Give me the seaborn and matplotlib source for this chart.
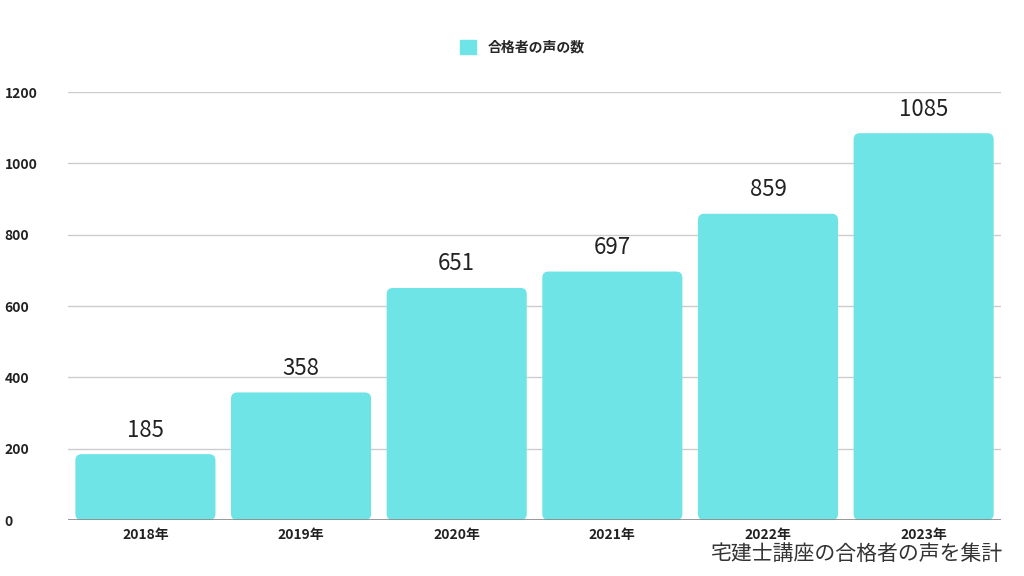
import matplotlib.pyplot as plt
import seaborn as sns
import pandas as pd
from matplotlib.patches import FancyBboxPatch, Patch

years = ["2018年", "2019年", "2020年", "2021年", "2022年", "2023年"]
voices = [185, 358, 651, 697, 859, 1085]
series_name = "合格者の声の数"
footer = "宅建士講座の合格者の声を集計"
bar_color = "#6ee4e6"

df = pd.DataFrame({"year": years, "count": voices})

sns.set_theme(style="white")
plt.rcParams['font.family'] = ['Noto Sans CJK JP', 'DejaVu Sans']

fig = plt.figure(figsize=(10.24, 5.76), dpi=100)
ax = fig.add_axes([0.066, 0.097, 0.912, 0.743])

sns.barplot(data=df, x="year", y="count", color=bar_color, width=0.9, ax=ax, saturation=1)
ax.set_ylim(0, 1200)
ax.set_xlim(-0.5, 5.5)

# swap plain bars for rounded ones
aspect = (1200 / 428) / (6 / 934)
for p in list(ax.patches):
    x, y, w, h = p.get_x(), p.get_y(), p.get_width(), p.get_height()
    p.remove()
    ax.add_patch(FancyBboxPatch((x, y), w, h, boxstyle="round,pad=0,rounding_size=0.04",
                                mutation_aspect=aspect, fc=bar_color, ec="none", zorder=2))

for i, v in enumerate(voices):
    ax.text(i, v + 35, str(v), ha="center", va="bottom", fontsize=16, color="#222222",
            clip_on=False)

ax.set_yticks(range(0, 1201, 200))
ax.yaxis.grid(True, color="#cccccc", linewidth=1)
ax.set_axisbelow(True)
ax.axhline(0, color="#888888", linewidth=1.2, zorder=3)
for s in ax.spines.values():
    s.set_visible(False)
ax.set_xlabel("")
ax.set_ylabel("")
ax.tick_params(axis="y", pad=18, labelsize=10, length=0)
ax.tick_params(axis="x", labelsize=10, length=0, pad=6)
for lbl in ax.get_xticklabels() + ax.get_yticklabels():
    lbl.set_fontweight("bold")
    lbl.set_color("#222222")
for lbl in ax.get_yticklabels():
    lbl.set_horizontalalignment("left")
    lbl.set_x(-0.066 / 0.912 + 0.005)
ax.tick_params(axis="y", pad=0)

fig.legend(handles=[Patch(color=bar_color, label=series_name)], loc="center",
           bbox_to_anchor=(0.51, 0.918), frameon=False, handlelength=1.2, handleheight=1.2,
           prop={"weight": "bold", "size": 10, "family": ['Noto Sans CJK JP', 'DejaVu Sans']})

fig.text(0.98, 0.02, footer, ha="right", va="bottom", fontsize=15, color="#333333")

fig.savefig("out.png", dpi=100)
